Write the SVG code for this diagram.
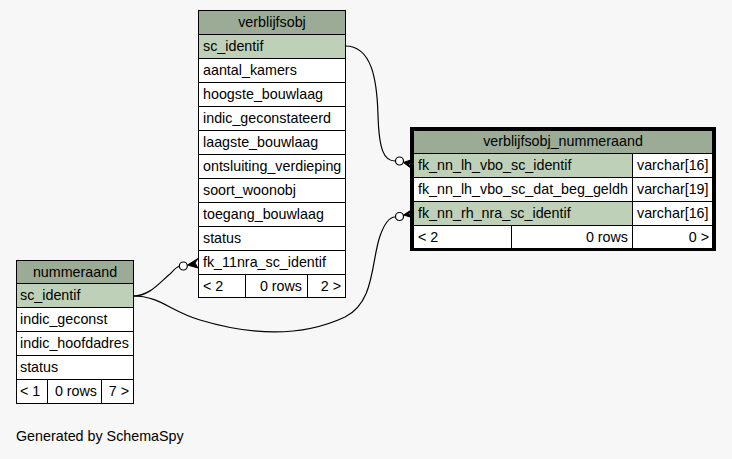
<svg xmlns="http://www.w3.org/2000/svg" width="732" height="459" viewBox="0 0 732 459">
<style>
text{font-family:"Liberation Sans",Arial,Helvetica,sans-serif;font-size:14.3px;fill:#000}
.hd{fill:#9bab96;stroke:#000;stroke-width:1}
.key{fill:#bed1b8;stroke:#000;stroke-width:1}
.cell{fill:#fff;stroke:#000;stroke-width:1}
.mid{text-anchor:middle}
.end{text-anchor:end}
.edge{fill:none;stroke:#000;stroke-width:1.2}
.odot{fill:#fff;stroke:#000;stroke-width:1.2}
.crow{fill:#000;stroke:#000;stroke-width:1}
</style>
<rect x="0" y="0" width="732" height="459" fill="#f7f7f7"/>

<g id="edges">
  <path class="edge" d="M345,46 C372,46 377,80 378,115 C379,150 384,161 395,161"/>
  <circle class="odot" cx="399.5" cy="161" r="4"/>
  <polygon class="crow" points="403.5,162.5 412,159.5 409,164.5 412,169"/>
  <path class="edge" d="M133,296 C160,296 170,311 200,320 C250,335 300,338 345,317 C375,302 371,262 380,236 C385,222 390,217 395,217"/>
  <circle class="odot" cx="399.5" cy="216.5" r="4"/>
  <polygon class="crow" points="403.5,215 412,209.5 409,213.5 412,217.5"/>
  <path class="edge" d="M133,296 C150,296 160,282 170,274 C174,270 176,267 179,266.5"/>
  <circle class="odot" cx="183.3" cy="266" r="4"/>
  <polygon class="crow" points="187.5,265 198,258.5 195,263 198,268"/>
</g>

<g id="verblijfsobj">
  <rect class="hd" x="198.5" y="10.5" width="147" height="24"/>
  <text class="mid" x="272" y="27">verblijfsobj</text>
  <rect class="key" x="198.5" y="34.5" width="147" height="24"/>
  <text x="203" y="51">sc_identif</text>
  <rect class="cell" x="198.5" y="58.5" width="147" height="24"/>
  <text x="203" y="75">aantal_kamers</text>
  <rect class="cell" x="198.5" y="82.5" width="147" height="24"/>
  <text x="203" y="99">hoogste_bouwlaag</text>
  <rect class="cell" x="198.5" y="106.5" width="147" height="24"/>
  <text x="203" y="123">indic_geconstateerd</text>
  <rect class="cell" x="198.5" y="130.5" width="147" height="24"/>
  <text x="203" y="147">laagste_bouwlaag</text>
  <rect class="cell" x="198.5" y="154.5" width="147" height="24"/>
  <text x="203" y="171">ontsluiting_verdieping</text>
  <rect class="cell" x="198.5" y="178.5" width="147" height="24"/>
  <text x="203" y="195">soort_woonobj</text>
  <rect class="cell" x="198.5" y="202.5" width="147" height="24"/>
  <text x="203" y="219">toegang_bouwlaag</text>
  <rect class="cell" x="198.5" y="226.5" width="147" height="24"/>
  <text x="203" y="243">status</text>
  <rect class="cell" x="198.5" y="250.5" width="147" height="24"/>
  <text x="203" y="267">fk_11nra_sc_identif</text>
  <rect class="cell" x="198.5" y="274.5" width="47" height="23"/>
  <rect class="cell" x="245.5" y="274.5" width="62" height="23"/>
  <rect class="cell" x="307.5" y="274.5" width="38" height="23"/>
  <text x="203" y="291">&lt; 2</text>
  <text class="end" x="302" y="291">0 rows</text>
  <text class="end" x="341" y="291">2 &gt;</text>
</g>

<g id="verblijfsobj_nummeraand">
  <rect x="410" y="127" width="306" height="124" fill="#000"/>
  <rect class="hd" x="413.5" y="130.5" width="299" height="23"/>
  <text class="mid" x="563" y="146">verblijfsobj_nummeraand</text>
  <rect class="key" x="413.5" y="153.5" width="219" height="24"/>
  <rect class="cell" x="632.5" y="153.5" width="80" height="24"/>
  <text x="418" y="170">fk_nn_lh_vbo_sc_identif</text>
  <text x="637" y="170">varchar[16]</text>
  <rect class="cell" x="413.5" y="177.5" width="219" height="24"/>
  <rect class="cell" x="632.5" y="177.5" width="80" height="24"/>
  <text x="418" y="194">fk_nn_lh_vbo_sc_dat_beg_geldh</text>
  <text x="637" y="194">varchar[19]</text>
  <rect class="key" x="413.5" y="201.5" width="219" height="24"/>
  <rect class="cell" x="632.5" y="201.5" width="80" height="24"/>
  <text x="418" y="218">fk_nn_rh_nra_sc_identif</text>
  <text x="637" y="218">varchar[16]</text>
  <rect class="cell" x="413.5" y="225.5" width="98" height="23"/>
  <rect class="cell" x="511.5" y="225.5" width="121" height="23"/>
  <rect class="cell" x="632.5" y="225.5" width="80" height="23"/>
  <text x="418" y="242">&lt; 2</text>
  <text class="end" x="628" y="242">0 rows</text>
  <text class="end" x="709" y="242">0 &gt;</text>
</g>

<g id="nummeraand">
  <rect class="hd" x="16.5" y="260.5" width="117" height="23"/>
  <text class="mid" x="75" y="277">nummeraand</text>
  <rect class="key" x="16.5" y="283.5" width="117" height="24"/>
  <text x="20" y="300">sc_identif</text>
  <rect class="cell" x="16.5" y="307.5" width="117" height="24"/>
  <text x="20" y="324">indic_geconst</text>
  <rect class="cell" x="16.5" y="331.5" width="117" height="24"/>
  <text x="20" y="348">indic_hoofdadres</text>
  <rect class="cell" x="16.5" y="355.5" width="117" height="24"/>
  <text x="20" y="372">status</text>
  <rect class="cell" x="16.5" y="379.5" width="31" height="24"/>
  <rect class="cell" x="47.5" y="379.5" width="54" height="24"/>
  <rect class="cell" x="101.5" y="379.5" width="32" height="24"/>
  <text x="20" y="396">&lt; 1</text>
  <text class="end" x="97" y="396">0 rows</text>
  <text class="end" x="129" y="396">7 &gt;</text>
</g>

<text x="16" y="441">Generated by SchemaSpy</text>
</svg>
